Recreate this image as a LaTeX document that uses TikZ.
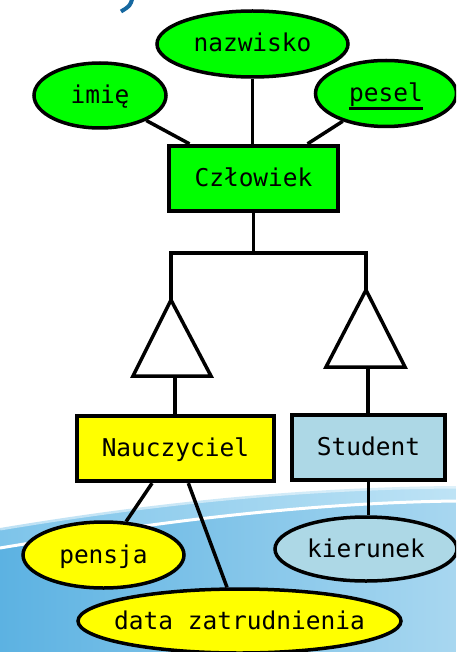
\documentclass[tikz,border=0pt]{standalone}
\usepackage{fontspec}
\setmonofont{DejaVu Sans Mono}
\usetikzlibrary{shapes.geometric}
\definecolor{erGreen}{RGB}{0,255,0}
\definecolor{erYellow}{RGB}{255,255,0}
\definecolor{erBlue}{RGB}{173,216,230}
\definecolor{titleBlue}{RGB}{22,104,160}
\definecolor{bandL}{RGB}{125,196,234}
\definecolor{bandR}{RGB}{190,227,245}
\definecolor{lowL}{RGB}{92,178,226}
\definecolor{lowR}{RGB}{168,215,240}
\tikzset{
  lbl/.style={font=\ttfamily\fontsize{24.5}{29}\selectfont, text height=20pt, text depth=4pt, inner sep=0pt},
  attr/.style={lbl, ellipse, draw=black, line width=3.5pt},
  ent/.style={lbl, rectangle, draw=black, line width=3.8pt},
  conn/.style={line width=3.5pt, draw=black, line join=miter}
}
\newcommand\ztext[1]{\makebox[0pt]{#1}}
\begin{document}
\begin{tikzpicture}[x=1pt, y=-1pt]
\useasboundingbox (0,0) rectangle (456,652);
\clip (0,0) rectangle (456,652);
% background
\fill[white] (0,0) rectangle (456,652);
\shade[left color=bandL, right color=bandR] (0,528) .. controls (150,503) and (300,487) .. (456,486) -- (456,652) -- (0,652) -- cycle;
\draw[white, opacity=0.5, line width=5pt] (0,528) .. controls (150,503) and (300,487) .. (456,486);
\shade[left color=lowL, right color=lowR] (0,548) .. controls (150,523) and (300,503) .. (456,501) -- (456,652) -- (0,652) -- cycle;
\draw[white, line width=3pt] (0,548) .. controls (150,523) and (300,503) .. (456,501);
% fragment of title
\draw[titleBlue, line width=4pt] (132.5,-2) .. controls (130,6) .. (121,11.5);

% nodes
\node[attr, fill=erGreen, minimum width=191pt, minimum height=66pt] (nazwisko) at (252.5,44) {\ztext{nazwisko}};
\node[attr, fill=erGreen, minimum width=132pt, minimum height=65pt] (imie) at (100,95.5) {\ztext{imię}};
\node[attr, fill=erGreen, minimum width=141pt, minimum height=66pt] (pesel) at (386,93.5) {\ztext{\rlap{pesel}\rule[-8.3pt]{73.7pt}{2.6pt}}};
\node[ent, fill=erGreen, minimum width=169.5pt, minimum height=65.5pt] (czlowiek) at (253.5,178.5) {Człowiek};
\node[ent, fill=erYellow, minimum width=197.5pt, minimum height=65.5pt] (nauczyciel) at (175.5,448.5) {Nauczyciel};
\node[ent, fill=erBlue, minimum width=153.5pt, minimum height=65.5pt] (student) at (368.5,447.5) {Student};
\node[attr, fill=erYellow, minimum width=161pt, minimum height=66pt] (pensja) at (103.5,555) {\ztext{pensja}};
\node[attr, fill=erBlue, minimum width=182pt, minimum height=64pt] (kierunek) at (366,549) {\ztext{kierunek}};
\node[attr, fill=erYellow, minimum width=323pt, minimum height=64pt] (data) at (239.5,621) {\ztext{data zatrudnienia}};

% attribute connectors
\draw[conn] (imie) -- (czlowiek);
\draw[conn] (pesel) -- (czlowiek);
\draw[conn] (nazwisko.south) -- (nazwisko.south |- czlowiek.north);
\draw[conn] (nauczyciel) -- (pensja);
\draw[conn] (nauczyciel) -- (data);
\draw[conn] (student.south) -- (student.south |- kierunek.north);

% generalisation
\coordinate (hub) at (253.5,253);
\coordinate (gl) at (171,253);
\coordinate (gr) at (366,253);
\coordinate (tla) at (171,300);
\coordinate (tll) at (133,376);
\coordinate (tlr) at (211,376);
\coordinate (tra) at (366,290);
\coordinate (trl) at (326,367);
\coordinate (trr) at (405,367);
\coordinate (tlb) at (175,376);
\coordinate (trb) at (368,367);
\draw[conn] (czlowiek.south) -- (hub);
\draw[conn] (tla) -- (gl) -- (gr) -- (tra);
\draw[conn] (tla) -- (tll) -- (tlr) -- cycle;
\draw[conn] (tra) -- (trl) -- (trr) -- cycle;
\draw[conn] (tlb) -- (tlb |- nauczyciel.north);
\draw[conn] (trb) -- (trb |- student.north);
\end{tikzpicture}
\end{document}
